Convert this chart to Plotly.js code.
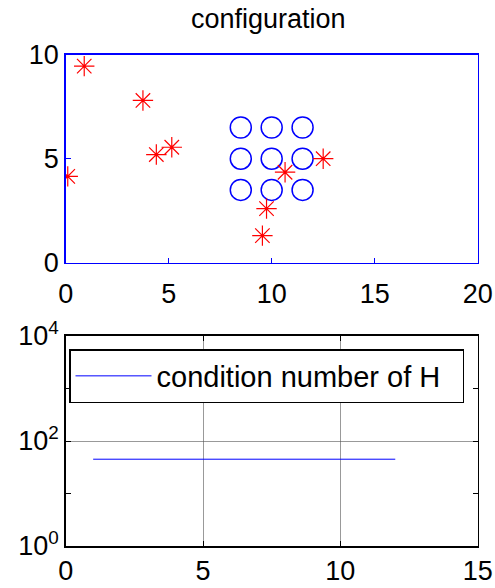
<!DOCTYPE html>
<html><head><meta charset="utf-8">
<script src="https://cdn.plot.ly/plotly-3.0.1.min.js"></script>
<style>html,body{margin:0;padding:0;background:#fff}</style>
</head><body>
<div id="chart" style="width:495px;height:588px"></div>
<script>
// Sensor / anchor positions (circles)
const anchorX = [8.5, 10, 11.5, 8.5, 10, 11.5, 8.5, 10, 11.5];
const anchorY = [6.5, 6.5, 6.5, 5, 5, 5, 3.5, 3.5, 3.5];
// Target positions (stars)
const targetX = [0.1, 0.9, 3.75, 4.4, 5.15, 12.5, 10.65, 9.75, 9.55];
const targetY = [4.15, 9.45, 7.8, 5.2, 5.55, 5.0, 4.35, 2.6, 1.3];
// Condition number series
const condX = [1, 2, 3, 4, 5, 6, 7, 8, 9, 10, 11, 12];
const condY = [45, 45, 45, 45, 45, 45, 45, 45, 45, 45, 45, 45];
const legendName = 'condition number of H';
const topTitle = 'configuration';
const logTickVals = [1, 100, 10000];
const logTickText = ['10<sup>0</sup>', '10<sup>2</sup>', '10<sup>4</sup>'];

const FS = 27;
const font = {family: 'Liberation Sans, Arial, sans-serif', size: FS, color: '#000'};

const traces = [
  {x: anchorX, y: anchorY, mode: 'markers', type: 'scatter', xaxis: 'x', yaxis: 'y',
   marker: {symbol: 'circle-open', size: 21, color: '#0000ff', line: {width: 1.5, color: '#0000ff'}},
   showlegend: false, hoverinfo: 'skip'},
  {x: targetX, y: targetY, mode: 'markers', type: 'scatter', xaxis: 'x', yaxis: 'y',
   marker: {symbol: 'asterisk-open', size: 17, color: '#ff0000', line: {width: 1.2, color: '#ff0000'}},
   showlegend: false, hoverinfo: 'skip'},
  {x: condX, y: condY, mode: 'lines', type: 'scatter', xaxis: 'x2', yaxis: 'y2',
   name: legendName, line: {color: '#0000ff', width: 1}, showlegend: true}
];

const xd = [0.1327, 0.965];
const layout = {
  width: 495, height: 588,
  margin: {l: 0, r: 0, t: 0, b: 0},
  paper_bgcolor: '#fff', plot_bgcolor: '#fff',
  font: font,
  showlegend: true,
  title: {text: topTitle, font: {family: font.family, size: FS, color: '#000'}, x: 0.542, xanchor: 'center', y: 0.968, yanchor: 'middle'},
  xaxis: {domain: xd, anchor: 'y', range: [0, 20], tickvals: [0, 5, 10, 15, 20],
    ticks: 'inside', ticklen: 5, tickcolor: '#0000ff', showgrid: false, zeroline: false,
    showline: true, linecolor: '#0000ff', linewidth: 1.5, mirror: true, ticklabelstandoff: 6,
    tickfont: font, fixedrange: true},
  yaxis: {domain: [0.5532, 0.907], anchor: 'x', range: [0, 10], tickvals: [0, 5, 10],
    ticks: 'inside', ticklen: 5, tickcolor: '#0000ff', showgrid: false, zeroline: false,
    showline: true, linecolor: '#0000ff', linewidth: 1.5, mirror: true,
    tickfont: font, fixedrange: true},
  xaxis2: {domain: xd, anchor: 'y2', range: [0, 15], tickvals: [0, 5, 10, 15],
    ticks: 'inside', ticklen: 5, tickcolor: '#000', showgrid: true, gridcolor: '#555', gridwidth: 0.6,
    zeroline: false, showline: true, linecolor: '#000', linewidth: 1.5, mirror: 'ticks',
    tickfont: font, fixedrange: true},
  yaxis2: {domain: [0.0714, 0.4286], anchor: 'x2', type: 'log', range: [0, 4],
    tickvals: logTickVals, ticktext: logTickText,
    ticks: 'inside', ticklen: 5, tickcolor: '#000', showgrid: true, gridcolor: '#555', gridwidth: 0.6,
    minor: {tickvals: [10, 1000], ticks: 'inside', ticklen: 5, tickcolor: '#000', showgrid: false},
    zeroline: false, showline: true, linecolor: '#000', linewidth: 1.5, mirror: 'ticks',
    tickfont: font, fixedrange: true},
  legend: {x: 69 / 495, y: 1 - 349 / 588, yanchor: 'top', xanchor: 'left',
    orientation: 'h', entrywidth: 301, entrywidthmode: 'pixels',
    bgcolor: '#fff', bordercolor: '#000', borderwidth: 1.5,
    font: {family: font.family, size: 29, color: '#000'}, itemwidth: 76}
};

Plotly.newPlot('chart', traces, layout, {displayModeBar: false, staticPlot: true});
</script>
</body></html>
